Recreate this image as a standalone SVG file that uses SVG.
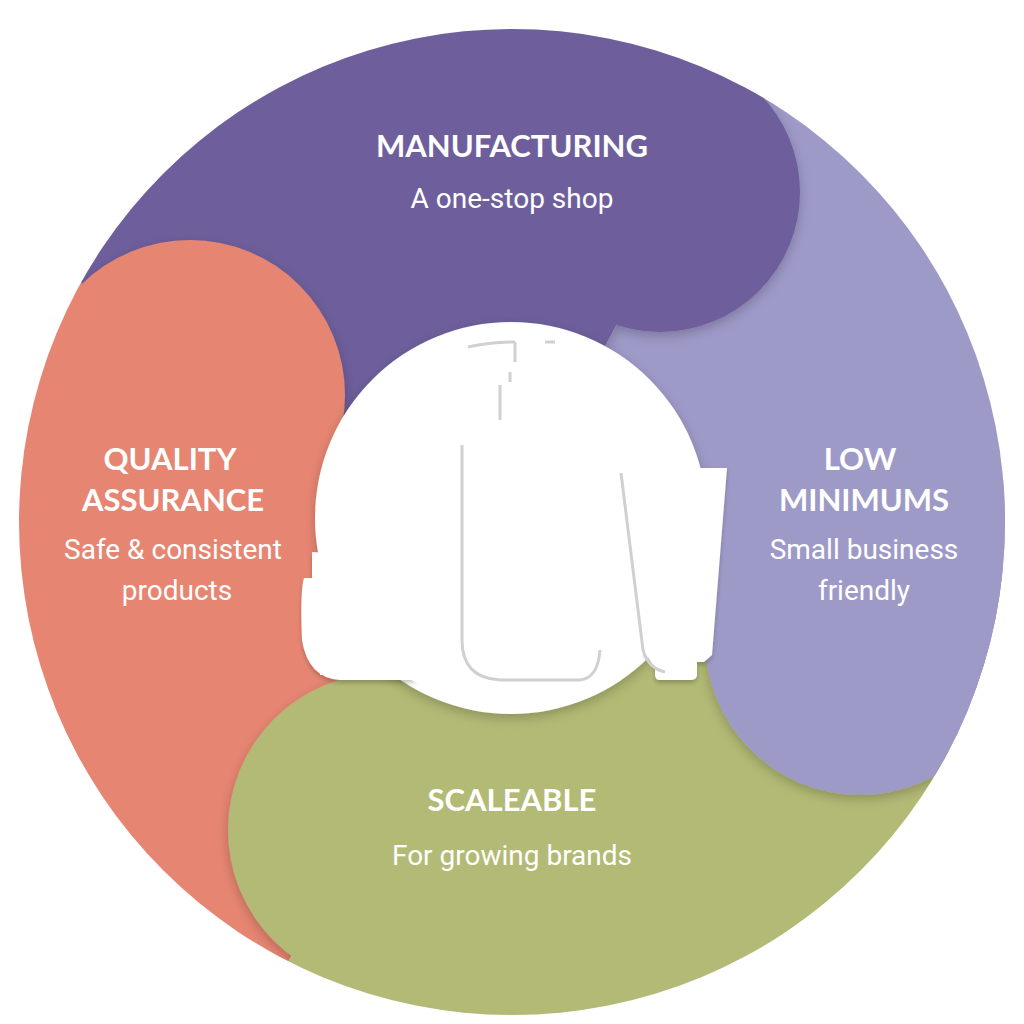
<svg xmlns="http://www.w3.org/2000/svg" width="1024" height="1024" viewBox="0 0 1024 1024">
<defs>
<clipPath id="big"><circle cx="512" cy="522" r="493"/></clipPath>
<clipPath id="gw"><path d="M512 522 L1051 785 L1051 1057 L240 1057 Z"/></clipPath>
<clipPath id="low"><rect x="0" y="480" width="1024" height="544"/></clipPath>
<filter id="sh" x="-20%" y="-20%" width="140%" height="140%"><feDropShadow dx="0" dy="4" stdDeviation="6" flood-color="#000" flood-opacity="0.22"/></filter>
<filter id="sh2" x="-20%" y="-20%" width="140%" height="140%"><feDropShadow dx="0" dy="3" stdDeviation="2" flood-color="#000" flood-opacity="0.22"/></filter>
<style>
.t{font-family:Lato,"Open Sans",sans-serif;font-weight:bold;font-size:31px;fill:#fff;text-anchor:middle}
.s{font-family:Roboto,"Liberation Sans",sans-serif;font-size:28px;fill:#fff;text-anchor:middle}
.ln{fill:none;stroke:#d0d0d0;stroke-width:3}
</style>
</defs>
<g clip-path="url(#big)">
<g id="lavender" fill="#9E9AC8"><path d="M512 522 L793 -8 L1051 -8 L1051 785 Z"/><circle cx="860" cy="640" r="155"/></g>
<g id="purple" fill="#6E5E9C" filter="url(#sh)"><path d="M512 522 L-13 231 L-13 -8 L793 -8 Z"/><circle cx="660" cy="192" r="140"/></g>
<g id="salmon" fill="#E68672" filter="url(#sh)"><path d="M512 522 L240 1057 L-13 1057 L-13 231 Z"/><circle cx="190" cy="395" r="155"/></g>
<g id="green" fill="#B3BA75" filter="url(#sh)"><path d="M512 522 L1051 785 L1051 1057 L240 1057 Z"/><circle cx="385" cy="830" r="157"/></g>
<path clip-path="url(#low)" d="M512 522 L793 -8 L1051 -8 L1051 785 Z" fill="#9E9AC8"/>
<g clip-path="url(#gw)"><circle cx="860" cy="640" r="155" fill="#9E9AC8" filter="url(#sh)"/></g>
</g>
<g id="center">
<circle cx="511" cy="518" r="196" fill="#fff" filter="url(#sh)"/>
<path d="M312 552 L312 578 L304 578 Q300 590 302 640 Q308 678 340 680 L410 680 Q432 676 438 650 L438 560 Z" fill="#fff" filter="url(#sh2)"/>
<path d="M622 468 L727 468 L712 655 L704 662 L697 662 L697 675 Q697 680 690 680 L660 680 Q655 680 655 675 L655 668 L643 650 Z" fill="#fff" filter="url(#sh2)"/>
<circle cx="511" cy="518" r="190" fill="#fff"/>
<path d="M320 585 L440 585 L440 675 L320 675 Z" fill="#fff"/>
<path d="M630 475 L715 475 L705 650 L650 650 Z" fill="#fff"/>
<path class="ln" d="M468 347 Q490 342 515 342 M515 342 L515 362 M545 342 L555 342 M510 372 L510 382 M500 385 L500 420"/>
<path class="ln" d="M462 445 L462 640 Q462 678 500 680 L580 680 Q598 678 600 650"/>
<path class="ln" d="M621 473 L643 650 Q648 668 665 672"/>
</g>
<text class="t" x="512" y="157">MANUFACTURING</text>
<text class="s" x="512" y="208">A one-stop shop</text>
<text class="t" x="170" y="470">QUALITY</text>
<text class="t" x="173" y="511">ASSURANCE</text>
<text class="s" x="173" y="559">Safe &amp; consistent</text>
<text class="s" x="177" y="600">products</text>
<text class="t" x="860" y="470">LOW</text>
<text class="t" x="864" y="511">MINIMUMS</text>
<text class="s" x="864" y="559">Small business</text>
<text class="s" x="864" y="600">friendly</text>
<text class="t" x="512" y="811">SCALEABLE</text>
<text class="s" x="512" y="865">For growing brands</text>
</svg>
